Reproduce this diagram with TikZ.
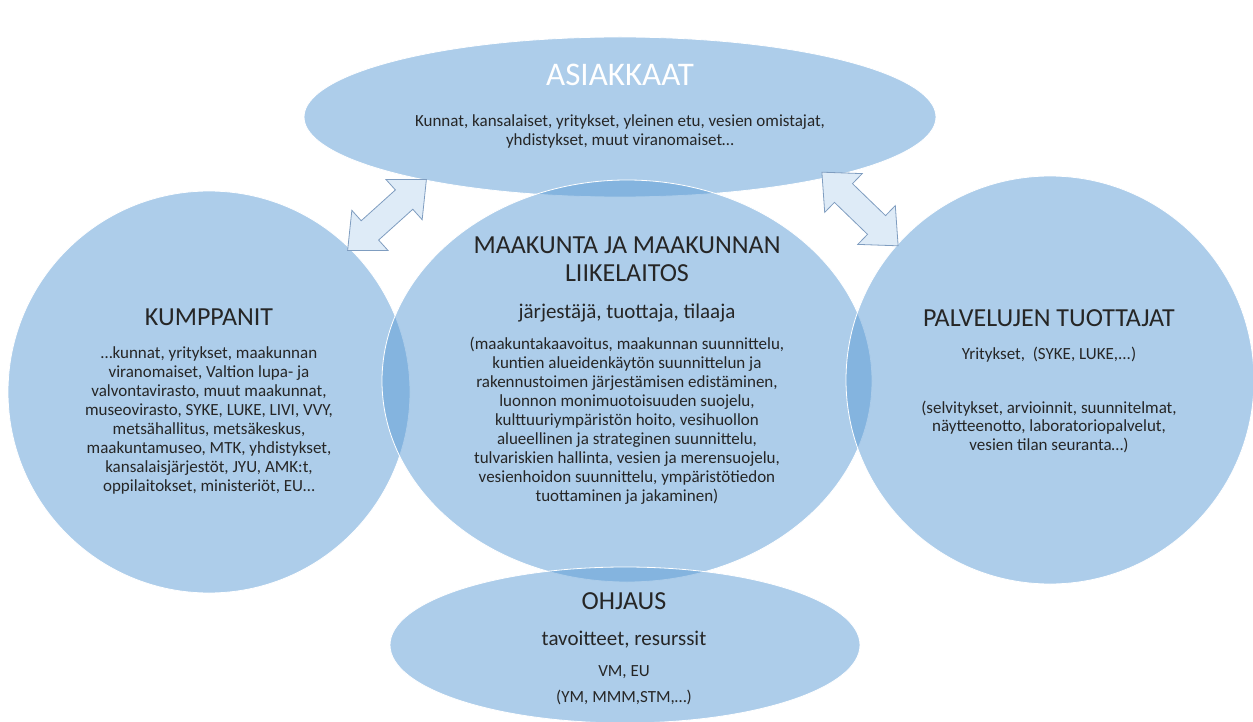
\documentclass[tikz,border=0pt]{standalone}
\usepackage{fontspec}
\setmainfont{Carlito}
\usetikzlibrary{shapes.geometric}
\definecolor{kuplasini}{HTML}{5B9BD5}
\definecolor{nuolitayte}{HTML}{DEEBF7}
\definecolor{nuolireuna}{HTML}{7F9DC0}
\definecolor{tumma}{HTML}{262626}

\begin{document}
\begin{tikzpicture}[x=1pt,y=-1pt,
    kupla/.style={ellipse, fill=kuplasini, fill opacity=0.5, draw=white, line width=0.8pt, inner sep=0pt},
    otsikko/.style={anchor=base, text=tumma, align=center, font=\fontsize{26}{28}\selectfont},
    alaotsikko/.style={anchor=base, text=tumma, align=center, font=\fontsize{21}{23}\selectfont},
    leipa/.style={anchor=base, text=tumma, align=center, font=\fontsize{17}{19}\selectfont},
    nuoli/.style={fill=nuolitayte, draw=nuolireuna, line width=0.8pt, line join=miter}]
    \useasboundingbox (0,0) rectangle (1253,722);

    % kuplat
    \node[kupla, minimum width=632pt, minimum height=160pt] (asiakkaat) at (620,117) {};
    \node[kupla, minimum width=402pt, minimum height=402pt] (kumppanit) at (209,392) {};
    \node[kupla, minimum width=490pt, minimum height=402pt] (maakunta) at (627,381) {};
    \node[kupla, minimum width=408pt, minimum height=408pt] (tuottajat) at (1050,380) {};
    \node[kupla, minimum width=470pt, minimum height=156pt] (ohjaus) at (625,645) {};

    % kaksisuuntaiset nuolet
    \foreach \px/\py/\kulma in {387/215/42, 860/209/-44} {
      \begin{scope}[shift={(\px,\py)}, rotate=\kulma]
        \draw[nuoli] (-53,0) -- (-23,27) -- (-23,13) -- (23,13) -- (23,27) -- (53,0)
          -- (23,-27) -- (23,-13) -- (-23,-13) -- (-23,-27) -- cycle;
      \end{scope}
    }

    % ASIAKKAAT (monirivisen solmun base = viimeisen rivin perusviiva)
    \node[anchor=base, text=white, font=\fontsize{33}{35}\selectfont] (asiakkaatots) at (620,86) {ASIAKKAAT};
    \node[leipa] (asiakkaatteksti) at (620,146) {Kunnat, kansalaiset, yritykset, yleinen etu, vesien omistajat,\\yhdistykset, muut viranomaiset…};

    % KUMPPANIT
    \node[otsikko] (kumppanitots) at (209,325) {KUMPPANIT};
    \node[leipa] (kumppaniteksti) at (209,491) {…kunnat, yritykset, maakunnan\\viranomaiset, Valtion lupa- ja\\valvontavirasto, muut maakunnat,\\museovirasto, SYKE, LUKE, LIVI, VVY,\\metsähallitus, metsäkeskus,\\maakuntamuseo, MTK, yhdistykset,\\kansalaisjärjestöt, JYU, AMK:t,\\oppilaitokset, ministeriöt, EU…};

    % MAAKUNTA
    \node[otsikko] (maakuntaots) at (627,281) {MAAKUNTA JA MAAKUNNAN\\LIIKELAITOS};
    \node[alaotsikko] (maakuntarooli) at (627,318) {järjestäjä, tuottaja, tilaaja};
    \node[leipa] (maakuntateksti) at (627,501) {(maakuntakaavoitus, maakunnan suunnittelu,\\kuntien alueidenkäytön suunnittelun ja\\rakennustoimen järjestämisen edistäminen,\\luonnon monimuotoisuuden suojelu,\\kulttuuriympäristön hoito, vesihuollon\\alueellinen ja strateginen suunnittelu,\\tulvariskien hallinta, vesien ja merensuojelu,\\vesienhoidon suunnittelu, ympäristötiedon\\tuottaminen ja jakaminen)};

    % PALVELUJEN TUOTTAJAT
    \node[otsikko] (tuottajatots) at (1049,326) {PALVELUJEN TUOTTAJAT};
    \node[leipa] (tuottajatnimet) at (1049,359) {Yritykset,\ \ (SYKE, LUKE,...)};
    \node[leipa, font=\fontsize{17}{18.5}\selectfont] (tuottajatteksti) at (1049,450) {(selvitykset, arvioinnit, suunnitelmat,\\näytteenotto, laboratoriopalvelut,\\vesien tilan seuranta…)};

    % OHJAUS
    \node[otsikko] (ohjausots) at (624,609) {OHJAUS};
    \node[alaotsikko] (ohjaustavoite) at (624,645) {tavoitteet, resurssit};
    \node[leipa] (ohjausvm) at (624,676) {VM, EU};
    \node[leipa] (ohjausmin) at (624,702) {(YM, MMM,STM,…)};
\end{tikzpicture}
\end{document}
